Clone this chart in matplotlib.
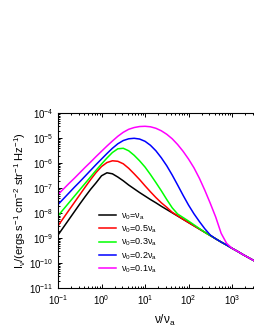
import numpy as np
import matplotlib
matplotlib.use("Agg")
import matplotlib.pyplot as plt

plt.rcParams["font.family"] = ["Liberation Sans", "DejaVu Sans"]
plt.rcParams["mathtext.fontset"] = "custom"
plt.rcParams["mathtext.rm"] = "Liberation Sans"
plt.rcParams["mathtext.it"] = "Liberation Sans"
plt.rcParams["mathtext.bf"] = "Liberation Sans:bold"

# log10(nu/nu_a), sampled every 1/8 decade
log_nu = np.arange(-1, 3.51, 0.125)

# log10(I_nu)
black = [-8.87, -8.56, -8.25, -7.94, -7.63, -7.33, -7.04, -6.78, -6.50, -6.38, -6.42, -6.55,
         -6.70, -6.87, -7.02, -7.17, -7.31, -7.45, -7.58, -7.72, -7.85, -7.98, -8.11, -8.24,
         -8.37, -8.50, -8.63, -8.76, -8.89, -9.02, -9.15, -9.27, -9.40, -9.52, -9.65, -9.77, -9.89]
red = [-8.50, -8.19, -7.88, -7.57, -7.26, -6.95, -6.65, -6.37, -6.13, -5.97, -5.90, -5.92,
       -6.02, -6.20, -6.42, -6.65, -6.90, -7.14, -7.37, -7.58, -7.76, -7.96, -8.10, -8.24,
       -8.37, -8.50, -8.63, -8.76, -8.89, -9.02, -9.15, -9.27, -9.40, -9.52, -9.65, -9.77, -9.89]
green = [-8.10, -7.84, -7.58, -7.32, -7.06, -6.80, -6.54, -6.28, -6.03, -5.79, -5.57, -5.42,
         -5.40, -5.50, -5.68, -5.90, -6.15, -6.45, -6.77, -7.10, -7.45, -7.78, -8.03, -8.17,
         -8.31, -8.46, -8.61, -8.76, -8.89, -9.02, -9.15, -9.27, -9.40, -9.52, -9.65, -9.77, -9.89]
blue = [-7.65, -7.42, -7.19, -6.96, -6.74, -6.51, -6.28, -6.05, -5.83, -5.61, -5.40, -5.22,
        -5.09, -5.02, -5.00, -5.03, -5.12, -5.28, -5.50, -5.78, -6.10, -6.47, -6.87, -7.28,
        -7.67, -8.02, -8.33, -8.62, -8.87, -9.02, -9.15, -9.27, -9.40, -9.52, -9.65, -9.77, -9.89]
magenta = [-7.25, -7.03, -6.81, -6.60, -6.38, -6.16, -5.95, -5.73, -5.52, -5.31, -5.11, -4.92,
           -4.76, -4.64, -4.57, -4.53, -4.52, -4.54, -4.60, -4.70, -4.84, -5.02, -5.25, -5.52,
           -5.83, -6.18, -6.60, -7.08, -7.60, -8.15, -8.80, -9.20, -9.40, -9.52, -9.65, -9.77, -9.89]

series = [black, red, green, blue, magenta]
colors = ["black", "#ff0000", "#00ff00", "#0000ff", "#ff00ff"]
labels = [r"$\nu_0$=$\nu_a$", r"$\nu_0$=0.5$\nu_a$", r"$\nu_0$=0.3$\nu_a$",
          r"$\nu_0$=0.2$\nu_a$", r"$\nu_0$=0.1$\nu_a$"]

fig = plt.figure(figsize=(2.55, 3.30), dpi=100)
# axes run past the right edge of the picture, like the cropped original
ax = fig.add_axes([0.2275, 0.1264, 0.8359, 0.5303])

nu = 10 ** log_nu
for vals, c, lab in zip(series, colors, labels):
    ax.plot(nu, 10 ** np.array(vals), color=c, lw=1.1, label=lab)

ax.set_xscale("log")
ax.set_yscale("log")
ax.set_xlim(1e-1, 10 ** 3.9)
ax.set_ylim(1e-11, 1e-4)
ax.xaxis.set_major_locator(matplotlib.ticker.LogLocator(base=10, numticks=10))
ax.yaxis.set_major_locator(matplotlib.ticker.LogLocator(base=10, numticks=10))
ax.xaxis.set_minor_locator(matplotlib.ticker.LogLocator(base=10, subs=np.arange(2, 10), numticks=20))
ax.yaxis.set_minor_locator(matplotlib.ticker.LogLocator(base=10, subs=np.arange(2, 10), numticks=20))
ax.xaxis.set_minor_formatter(matplotlib.ticker.NullFormatter())
ax.yaxis.set_minor_formatter(matplotlib.ticker.NullFormatter())

ax.tick_params(which="both", direction="in", top=True, right=True, labelsize=7, width=0.7)
ax.tick_params(which="major", length=3)
ax.tick_params(which="minor", length=1.6)
for s in ax.spines.values():
    s.set_linewidth(0.8)

ax.set_xlabel(r"$\nu$/$\nu_a$", fontsize=8.5, labelpad=4)
ax.set_ylabel(r"I$_\nu$/(ergs s$^{-1}$ cm$^{-2}$ str$^{-1}$ Hz$^{-1}$)", fontsize=8, labelpad=1)

ax.legend(loc="upper left", bbox_to_anchor=(0.19, 0.44), frameon=False, fontsize=6.5,
          handlelength=1.9, handletextpad=0.6, labelspacing=0.2, borderpad=0, borderaxespad=0)

fig.savefig("out.png", dpi=100)
